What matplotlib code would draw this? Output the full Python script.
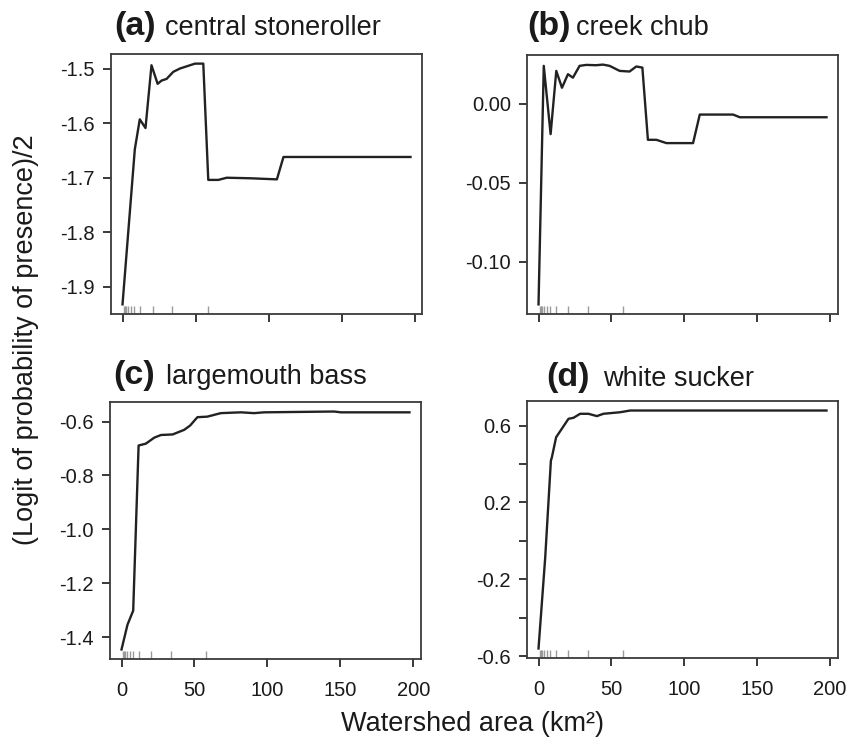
import numpy as np
import matplotlib
matplotlib.use("Agg")
import matplotlib.pyplot as plt

plt.rcParams['font.family'] = ['Liberation Sans', 'DejaVu Sans']
plt.rcParams['axes.unicode_minus'] = False

# ---------------- data ----------------
rug_x = [0.9, 1.8, 2.7, 3.8, 5.5, 8.0, 12.0, 20.5, 34.0, 58.2]

xa = [0, 8.4, 11.8, 15.7, 19.8, 24.0, 26.7, 30.1, 34.7, 39.2, 43.8, 49.5, 55.2,
      58.6, 65.5, 71.2, 87.2, 105.5, 110.0, 196.8]
ya = [-1.932, -1.648, -1.593, -1.609, -1.494, -1.528, -1.522, -1.519, -1.506,
      -1.500, -1.496, -1.491, -1.491, -1.704, -1.704, -1.700, -1.701, -1.703,
      -1.662, -1.662]

xb = [0, 3.6, 8.3, 12.2, 16.1, 20.2, 23.6, 28.2, 32.8, 39.6, 44.2, 48.8, 55.7,
      62.5, 67.1, 71.3, 75.1, 80.9, 87.8, 106.1, 110.7, 133.6, 138.2, 197.7]
yb = [-0.1272, 0.0241, -0.0192, 0.0209, 0.0102, 0.0188, 0.0166, 0.0241, 0.0247,
      0.0245, 0.0249, 0.0241, 0.0209, 0.0205, 0.0237, 0.0230, -0.0228, -0.0228,
      -0.0249, -0.0249, -0.0068, -0.0068, -0.0085, -0.0085]

xc = [0, 4.1, 8.0, 11.7, 16.7, 22.4, 27.0, 35.0, 42.9, 47.0, 52.0, 58.8, 68.0,
      81.7, 90.8, 97.7, 145.7, 150.2, 197.3]
yc = [-1.445, -1.353, -1.301, -0.689, -0.682, -0.660, -0.650, -0.648, -0.631,
      -0.615, -0.584, -0.582, -0.569, -0.566, -0.569, -0.566, -0.563, -0.566,
      -0.566]

xd = [0, 4.6, 8.5, 9.2, 12.1, 16.0, 20.6, 24.0, 28.6, 34.3, 40.1, 44.6, 56.0,
      63.0, 90.4, 197.9]
yd = [-0.560, -0.087, 0.417, 0.435, 0.539, 0.583, 0.635, 0.640, 0.661, 0.661,
      0.649, 0.661, 0.669, 0.678, 0.678, 0.678]

x_ticks = [0, 50, 100, 150, 200]
x_ticklabels = ['0', '50', '100', '150', '200']

a_yticks = [-1.9, -1.8, -1.7, -1.6, -1.5]
a_ylabels = ['-1.9', '-1.8', '-1.7', '-1.6', '-1.5']
b_yticks = [-0.10, -0.05, 0.00]
b_ylabels = ['-0.10', '-0.05', '0.00']
c_yticks = [-1.4, -1.2, -1.0, -0.8, -0.6]
c_ylabels = ['-1.4', '-1.2', '-1.0', '-0.8', '-0.6']
d_yticks = [-0.6, -0.4, -0.2, 0.0, 0.2, 0.4, 0.6]
d_ylabels = ['-0.6', '', '-0.2', '', '0.2', '', '0.6']

panel_tags = ['(a)', '(b)', '(c)', '(d)']
panel_names = ['central stoneroller', 'creek chub', 'largemouth bass', 'white sucker']

xlabel = 'Watershed area (km\u00b2)'
ylabel = '(Logit of probability of presence)/2'

# ---------------- layout ----------------
W, H = 863, 745
fig = plt.figure(figsize=(W / 100, H / 100), dpi=100)


def rect(l, r, t, b):
    return [l / W, 1 - b / H, (r - l) / W, (b - t) / H]


boxes = [(111, 422, 54, 314), (527, 838, 55, 314),
         (110, 421, 402, 659), (527, 838, 401, 658)]
title_pos = [(114, 165, 35), (527, 576, 35), (113, 166, 384), (546, 603, 386)]

series = [(xa, ya, a_yticks, a_ylabels), (xb, yb, b_yticks, b_ylabels),
          (xc, yc, c_yticks, c_ylabels), (xd, yd, d_yticks, d_ylabels)]

line_col = '#222222'
for i, (xs, ys, yt, yl) in enumerate(series):
    ax = fig.add_axes(rect(*boxes[i]))
    ax.plot(xs, ys, color=line_col, lw=1.7, solid_joinstyle='round')
    xarr, yarr = np.array(xs), np.array(ys)
    xr = xarr.max() - xarr.min()
    yr = yarr.max() - yarr.min()
    ax.set_xlim(xarr.min() - 0.04 * xr, xarr.max() + 0.04 * xr)
    ax.set_ylim(yarr.min() - 0.04 * yr, yarr.max() + 0.04 * yr)
    ax.vlines(rug_x, 0, 0.03, transform=ax.get_xaxis_transform(),
              color='#9a9a9a', lw=1.0)
    ax.set_xticks(x_ticks)
    ax.set_xticklabels(x_ticklabels if i >= 2 else [''] * len(x_ticks))
    ax.set_yticks(yt)
    ax.set_yticklabels(yl)
    ax.tick_params(direction='out', length=5.5, width=1.3, colors='#2a2a2a',
                   labelcolor='#1a1a1a', labelsize=14.5)
    ax.tick_params(axis='x', pad=10)
    ax.tick_params(axis='y', pad=6)
    for sp in ax.spines.values():
        sp.set_color('#3a3a3a')
        sp.set_linewidth(1.3)
    tx, nx, ty = title_pos[i]
    fig.text(tx / W, 1 - ty / H, panel_tags[i], fontsize=24.5, fontweight='bold',
             ha='left', va='baseline', color='#1a1a1a')
    fig.text(nx / W, 1 - ty / H, panel_names[i], fontsize=19.5,
             ha='left', va='baseline', color='#1a1a1a')

fig.text(472 / W, 1 - 724 / H, xlabel, fontsize=19.5, ha='center', va='center',
         color='#1a1a1a')
fig.text(26 / W, 1 - 340 / H, ylabel, fontsize=19.5, ha='center', va='center',
         rotation=90, color='#1a1a1a')

fig.savefig('out.png', dpi=100)
